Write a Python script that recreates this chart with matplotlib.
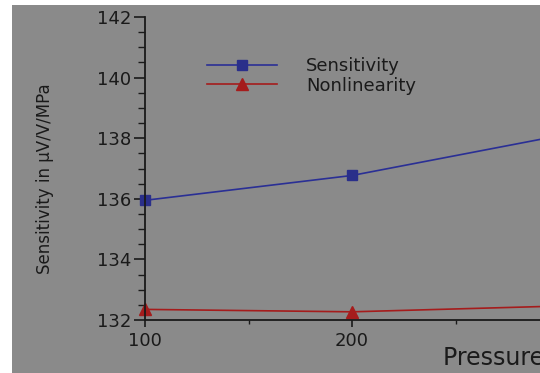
import matplotlib
matplotlib.use('Agg')
import matplotlib.pyplot as plt
from matplotlib.patches import Rectangle
from matplotlib.ticker import MultipleLocator

pressure = [100, 200, 300]
sensitivity = [135.95, 136.77, 138.08]
nonlinearity = [132.35, 132.27, 132.46]
series_names = ['Sensitivity', 'Nonlinearity']
x_major = [100, 200]
x_minor = [150, 250]

W, H = 540, 373
fig = plt.figure(figsize=(W / 100, H / 100), dpi=100, facecolor='white')
plt.rcParams['font.family'] = ['DejaVu Sans']

# gray scanned-looking background, white margin top/left
fig.patches.append(Rectangle((12 / W, 0), 1, (H - 5) / H, transform=fig.transFigure,
                             facecolor='#8a8a8a', edgecolor='none', zorder=-10))

# axes extends past the right edge of the picture (cropped plot)
x0, y0 = 145, 320
px_per_x = 2.07
right_px = 620
ax = fig.add_axes([x0 / W, (H - y0) / H, (right_px - x0) / W, (y0 - 17) / H])
ax.set_facecolor('none')
ax.set_xlim(100, 100 + (right_px - x0) / px_per_x)
ax.set_ylim(132, 142)

ax.plot(pressure, sensitivity, color='#2a2f95', lw=1.2, marker='s', markersize=7,
        markerfacecolor='#2a2f8a', markeredgecolor='#2a2f8a', label=series_names[0], clip_on=False)
ax.plot(pressure, nonlinearity, color='#a51c1c', lw=1.2, marker='^', markersize=9,
        markerfacecolor='#a51c1c', markeredgecolor='#a51c1c', label=series_names[1], clip_on=False)

for s in ['top', 'right']:
    ax.spines[s].set_visible(False)
for s in ['left', 'bottom']:
    ax.spines[s].set_color('#1a1a1a')
    ax.spines[s].set_linewidth(1.3)

ax.yaxis.set_major_locator(MultipleLocator(2))
ax.yaxis.set_minor_locator(MultipleLocator(0.5))
ax.set_xticks(x_major)
ax.set_xticks(x_minor, minor=True)
ax.tick_params(axis='y', which='major', direction='out', length=8, width=1.2, pad=2,
               labelsize=13, colors='#1a1a1a')
ax.tick_params(axis='y', which='minor', direction='out', length=5, width=1.0, colors='#1a1a1a')
ax.tick_params(axis='x', which='major', direction='out', length=5, width=1.2, pad=4,
               labelsize=13, colors='#1a1a1a')
ax.tick_params(axis='x', which='minor', direction='out', length=3, width=1.0, colors='#1a1a1a')

ax.legend(loc='upper left', bbox_to_anchor=(62 / (right_px - x0), 1 - 40 / (y0 - 17)),
          frameon=False, fontsize=13, handlelength=3.9, handletextpad=1.6,
          labelspacing=0.1, borderpad=0, borderaxespad=0, labelcolor='#1a1a1a')

fig.text(45 / W, 1 - 179 / H, 'Sensitivity in µV/V/MPa', rotation=90, fontsize=12,
         ha='center', va='center', color='#1a1a1a')
fig.text(443 / W, 1 - 365 / H, 'Pressure (MPa)', fontsize=17, ha='left', va='baseline',
         color='#1a1a1a')

fig.savefig('out.png', dpi=100, facecolor=fig.get_facecolor())
